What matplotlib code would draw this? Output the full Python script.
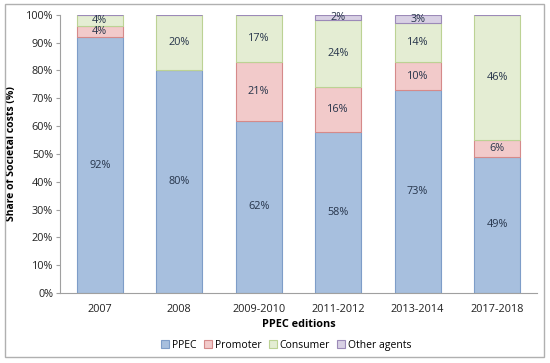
import numpy as np
import matplotlib
matplotlib.use('Agg')
import matplotlib.pyplot as plt
from matplotlib.patches import Rectangle

plt.rcParams['font.family'] = ['Open Sans', 'DejaVu Sans']

# data
editions = ['2007', '2008', '2009-2010', '2011-2012', '2013-2014', '2017-2018']
ppec = [92, 80, 62, 58, 73, 49]
promoter = [4, 0, 21, 16, 10, 6]
consumer = [4, 20, 17, 24, 14, 46]
other = [0, 0, 0, 2, 3, 0]
series_names = ['PPEC', 'Promoter', 'Consumer', 'Other agents']

fills = ['#A7BFDE', '#F2CACA', '#E4EDD3', '#D8D0E4']
edges = ['#7E9DC8', '#D58A8A', '#BCD294', '#9C8AB8']
txt = '#26344A'

fig = plt.figure(figsize=(5.5, 3.63), dpi=100)
ax = fig.add_axes([0.109, 0.193, 0.867, 0.766])

x = np.arange(len(editions))
bottom = np.zeros(len(editions))
for vals, name, fc, ec in zip([ppec, promoter, consumer, other], series_names, fills, edges):
    vals = np.array(vals, dtype=float)
    top = np.minimum(bottom + vals, 100)
    h = top - bottom
    ax.bar(x, h, 0.58, bottom=bottom, color=fc, edgecolor=ec, linewidth=0.8, label=name)
    for i, v in enumerate(vals):
        if v > 0:
            ax.text(x[i], bottom[i] + h[i] / 2, f'{int(v)}%', ha='center', va='center',
                    fontsize=7.8, color=txt)
    bottom = top

ax.set_xlim(-0.5, len(editions) - 0.5)
ax.set_ylim(0, 100)
ax.set_yticks(np.arange(0, 101, 10))
ax.set_yticklabels([f'{v}%' for v in range(0, 101, 10)])
ax.set_xticks(x)
ax.set_xticklabels(editions)
ax.tick_params(axis='y', length=3, color='#A0A0A0', labelsize=7.8, labelcolor='#222222', pad=2)
ax.tick_params(axis='x', length=0, labelsize=7.8, labelcolor='#222222', pad=8)
for s in ['top', 'right']:
    ax.spines[s].set_visible(False)
for s in ['left', 'bottom']:
    ax.spines[s].set_color('#A0A0A0')
    ax.spines[s].set_linewidth(0.8)

ax.set_ylabel('Share of Societal costs (%)', fontsize=7.5, fontweight='bold', labelpad=6)
ax.set_xlabel('PPEC editions', fontsize=7.8, fontweight='bold', labelpad=3)

ax.legend(loc='upper center', bbox_to_anchor=(0.475, -0.135), ncol=4, frameon=False,
          fontsize=7.5, handlelength=0.75, handleheight=0.75, handletextpad=0.3,
          columnspacing=0.7)

fig.patches.append(Rectangle((0.009, 0.016), 0.98, 0.972, transform=fig.transFigure,
                             fill=False, edgecolor='#B0B0B0', linewidth=1.0))

fig.savefig('out.png', dpi=100)
